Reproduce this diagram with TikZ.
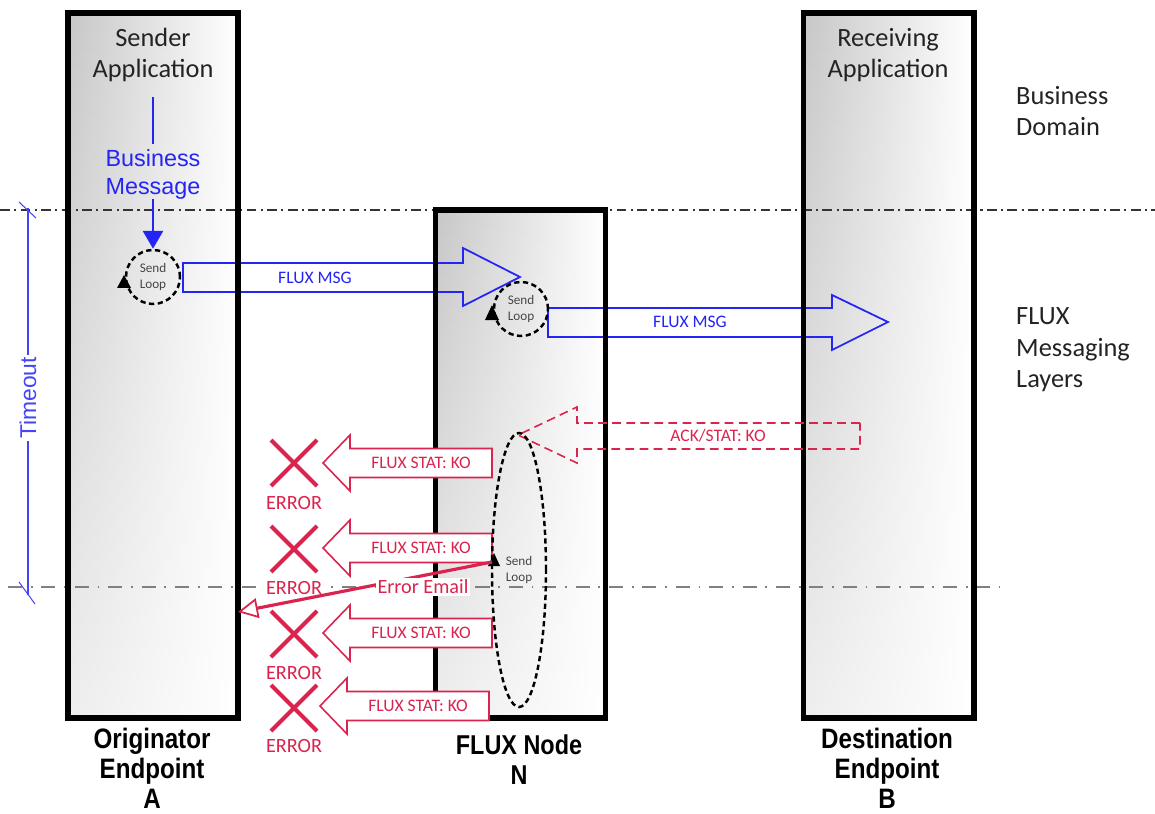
\documentclass[tikz,border=0pt]{standalone}
\usepackage{fontspec}
\setmainfont{Carlito}
\newfontfamily\arialfont{Liberation Sans}
\newfontfamily\endfont[FakeStretch=0.86]{Liberation Sans}
\usetikzlibrary{arrows.meta,shapes.geometric,fadings}
\definecolor{fluxblue}{RGB}{36,36,245}
\definecolor{fluxred}{RGB}{218,36,78}
\definecolor{textgray}{RGB}{35,35,35}
\definecolor{loopgray}{RGB}{70,70,70}

\begin{document}
\begin{tikzpicture}[x=0.2mm,y=-0.2mm,
  lane/.style={rectangle,minimum width=34mm,inner sep=0pt,outer sep=0pt,
               left color=black!22,right color=white},
  lanefade/.style={fill=white,path fading=north,opacity=0.7},
  laneedge/.style={draw=black,line width=3.4pt},
  apptext/.style={font=\fontsize{15}{18}\selectfont,text=textgray,align=center,inner sep=0pt},
  sidetext/.style={font=\fontsize{15}{18}\selectfont,text=textgray,align=left,anchor=west},
  endtext/.style={font=\endfont\bfseries\fontsize{16}{17}\selectfont,align=center,inner sep=0pt},
  biztext/.style={font=\arialfont\fontsize{13.3}{15.9}\selectfont,text=fluxblue,align=center,inner sep=0pt},
  bizline/.style={draw=fluxblue,line width=1.7pt},
  sendloop/.style={circle,draw=black,line width=1.4pt,dash pattern=on 3pt off 2pt,
                   minimum size=10.8mm,inner sep=0pt,align=center,
                   font=\fontsize{7.5}{9}\selectfont,text=loopgray},
  sendring/.style={sendloop,ellipse,minimum width=10.8mm,minimum height=54.8mm},
  layerline/.style={draw=black!80,line width=0.9pt,dash pattern=on 5.5pt off 2.5pt on 1.2pt off 2.5pt},
  timeoutline/.style={draw=black!50,line width=0.6pt,dash pattern=on 8pt off 5pt on 1pt off 5pt},
  timeoutbar/.style={draw=fluxblue!85,line width=0.6pt},
  timeouttext/.style={font=\arialfont\fontsize{13}{15}\selectfont,text=fluxblue!85,
                      rotate=90,fill=white,inner sep=1pt},
  msgarrow/.style={draw=fluxblue,line width=1pt},
  msgtext/.style={font=\fontsize{10}{12}\selectfont,text=fluxblue},
  statarrow/.style={draw=fluxred,fill=white,line width=0.9pt},
  ackarrow/.style={draw=fluxred,line width=0.9pt,dash pattern=on 5pt off 3pt},
  stattext/.style={font=\fontsize{10}{12}\selectfont,text=fluxred},
  errtext/.style={font=\fontsize{11.5}{13}\selectfont,text=fluxred,fill=white,inner sep=1pt},
  errcross/.style={draw=fluxred,line width=2.3pt},
  mailarrow/.style={draw=fluxred,line width=1.8pt,
                    -{Triangle[length=4mm,width=4mm,fill=white,line width=1pt]}}
]
  \useasboundingbox (0,0) rectangle (1155,814);

  % the three lanes
  \node[lane,minimum height=141mm] (orig) at (153,365.5) {};
  \node[lane,minimum height=101.6mm] (fluxn) at (520.5,464) {};
  \node[lane,minimum height=141mm] (dest) at (888.5,365.5) {};
  \foreach \lane in {orig,fluxn,dest}
    \path[lanefade] (\lane.north west) rectangle (\lane.south east);

  % layer boundaries
  \draw[layerline] (0,210) -- (1155,210);
  \draw[timeoutline] (8,587) -- (1000,587);

  % business domain
  \node[apptext] (sendapp) at (153,55) {Sender\\Application};
  \node[apptext] (recvapp) at (888,55) {Receiving\\Application};
  \node[sidetext] (bizdomain) at (1010,111) {Business\\Domain};
  \node[sidetext] (fluxlayers) at (1010,350) {FLUX\\Messaging\\Layers};
  \node[biztext] (bizmsg) at (153,174) {Business\\Message};

  % messages going out
  \draw[msgarrow] (183,263) -- (463,263) -- (463,248) -- (520,277) -- (463,306)
    -- (463,292) -- (183,292) -- cycle;
  \node[msgtext] (msg1) at (315,278) {FLUX MSG};
  \draw[msgarrow] (548,308) -- (832,308) -- (832,295) -- (888,322) -- (832,350)
    -- (832,337) -- (548,337) -- cycle;
  \node[msgtext] (msg2) at (690,322) {FLUX MSG};

  \foreach \lane in {orig,fluxn,dest}
    \draw[laneedge] (\lane.north west) rectangle (\lane.south east);

  \node[sendloop] (loopA) at (153,277) {Send\\Loop};
  \node[sendloop] (loopN) at (521,309) {Send\\Loop};
  \fill ([shift={(-36,11)}]loopA.center) -- ++(14,0) -- ++(-7,-13) -- cycle;
  \fill ([shift={(-36,11)}]loopN.center) -- ++(14,0) -- ++(-7,-15) -- cycle;
  \draw[bizline,shorten <=3mm,shorten >=1mm] (sendapp) -- (bizmsg);
  \draw[bizline,-{Triangle[length=3.6mm,width=4mm]}] (bizmsg) -- (loopA);

  % negative acknowledgement and retries
  \draw[ackarrow] (860,423) -- (577,423) -- (577,407) -- (518,435) -- (577,463)
    -- (577,449) -- (860,449) -- cycle;
  \node[stattext] (ack) at (718,436) {ACK/STAT: KO};

  \foreach \dx/\y [count=\i] in {0/463,0/548,0/633,-3/706}{
    \draw[statarrow] (492+\dx,\y-14.5) -- (350+\dx,\y-14.5) -- (350+\dx,\y-28)
      -- (323+\dx,\y) -- (350+\dx,\y+28) -- (350+\dx,\y+14.5) -- (492+\dx,\y+14.5) -- cycle;
    \node[stattext] (stat\i) at (421+\dx,\y) {FLUX STAT: KO};
  }
  \foreach \y/\ey [count=\i] in {463/503,549/588,634/673,708/746}{
    \draw[errcross] (271,\y-23) -- (317,\y+23) (271,\y+23) -- (317,\y-23);
    \node[errtext] (err\i) at (294,\ey) {ERROR};
  }

  \node[sendring] (loopR) at (519,570) {Send\\Loop};
  \fill ([shift={(-31,-4)}]loopR.center) -- ++(12,0) -- ++(-6,-13) -- cycle;

  % error mail back to the originator
  \coordinate (mailout) at (492,562);
  \coordinate (mailin) at (238,612);
  \draw[mailarrow] (mailout) -- (mailin);
  \node[errtext] (mail) at (423,587) {Error Email};

  % timeout
  \coordinate (ttop) at (28,208);
  \coordinate (tbot) at (28,595);
  \draw[timeoutbar] (ttop) -- (tbot);
  \draw[timeoutbar] (ttop) ++(-9,-6) -- ++(17,16);
  \draw[timeoutbar] (tbot) ++(-9,-13) -- ++(16,22);
  \node[timeouttext] (timeout) at (28,398) {Timeout};

  % endpoints
  \node[endtext] (origlbl) at (152,768) {Originator\\Endpoint\\A};
  \node[endtext,font=\endfont\bfseries\fontsize{15.5}{17}\selectfont] (fluxlbl) at (519,760) {FLUX Node\\N};
  \node[endtext] (destlbl) at (887,768) {Destination\\Endpoint\\B};
\end{tikzpicture}
\end{document}
